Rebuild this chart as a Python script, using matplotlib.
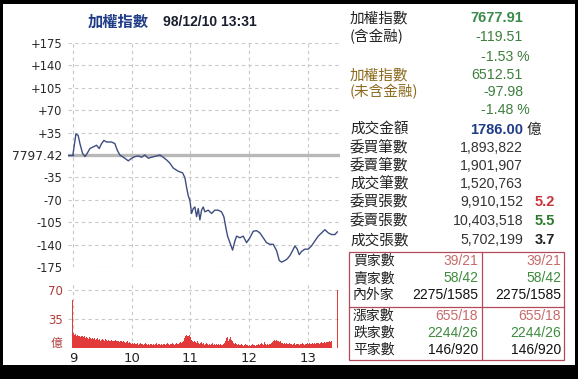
import matplotlib.pyplot as plt
from matplotlib.patches import Rectangle

plt.rcParams['font.family'] = ['Liberation Sans', 'Noto Sans CJK TC', 'DejaVu Sans']

# index change vs 7797.42, minutes after 09:00
minutes = [0, 3.1, 5.4, 7.2, 9.9, 12.3, 14.6, 17.4, 20.8, 24.2, 26.9, 29.3, 31.7, 34.4,
           39.5, 42.9, 45.3, 48.0, 53.1, 56.6, 60.0, 63.4, 66.8, 70.2, 73.6, 77.0, 80.4,
           85.5, 88.9, 92.3, 95.7, 99.1, 102.5, 107.7, 112.1, 114.5, 116.2, 117.9, 119.6,
           121.3, 123.0, 124.7, 126.4, 128.1, 129.8, 131.5, 133.2, 134.9, 138.3, 141.7,
           145.1, 148.5, 151.9, 154.3, 156.4, 158.1, 160.5, 163.2, 165.6, 167.3, 170.7,
           174.1, 177.5, 180.9, 184.3, 187.7, 191.1, 194.5, 197.9, 201.4, 204.8, 208.2,
           210.9, 213.3, 216.7, 219.1, 221.8, 224.5, 226.9, 229.3, 231.3, 233.7, 237.1,
           240.5, 243.9, 247.3, 250.7, 254.2, 257.6, 261.0, 264.4, 267.8, 270.2]
change = [0, 33.0, 30.4, 17.8, 2.5, -2.5, 2.5, 10.1, 12.7, 15.2, 10.1, 17.8, 22.8, 20.3,
          20.3, 17.8, 7.6, 0, -5.1, -9.1, -5.1, -2.5, -1.5, -3.5, 0, -5.1, -3.5,
          -1.5, 0, -3.5, -7.6, -12.7, -20.3, -25.4, -27.9, -35.5, -50.7, -63.4, -71.0,
          -91.3, -83.7, -81.2, -96.4, -83.7, -101.4, -86.2, -81.2, -88.8, -86.2, -91.3,
          -86.2, -86.2, -88.8, -96.4, -114.1, -126.8, -137.0, -148.6, -134.4, -126.8, -129.3,
          -126.8, -137.0, -129.3, -119.2, -118.2, -121.7, -129.3, -137.0, -139.5, -139.5, -149.6,
          -164.8, -167.4, -164.8, -162.3, -157.2, -149.6, -142.0, -147.1, -155.7, -150.7, -147.1,
          -147.1, -142.0, -134.4, -126.8, -121.7, -116.7, -121.7, -124.3, -124.3, -120.2]

# traded value per minute (億), 09:00 .. 13:24, then 13:30 close
vol_min = list(range(0, 265)) + [270]
volume = [58,
          18, 16, 17, 15, 16, 14, 15, 13, 14, 15,
          13, 14, 12, 13, 12, 11, 13, 12, 11, 12,
          11, 12, 10, 11, 12, 10, 11, 9, 10, 11,
          10, 9, 11, 10, 9, 10, 8, 9, 10, 9,
          9, 8, 9, 10, 8, 9, 8, 7, 8, 9,
          7, 8, 7, 6, 7, 8, 6, 7, 6, 5,
          6, 5, 6, 5, 5, 6, 4, 5, 6, 5,
          5, 4, 5, 6, 5, 4, 5, 4, 5, 5,
          4, 5, 4, 5, 6, 4, 5, 4, 5, 4,
          5, 4, 5, 5, 4, 5, 6, 5, 4, 5,
          5, 6, 5, 4, 5, 6, 5, 5, 6, 7,
          6, 7, 9, 12, 15, 16, 15, 14, 16, 13,
          10, 8, 7, 9, 7, 6, 8, 6, 5, 6,
          7, 5, 6, 5, 4, 5, 6, 5, 4, 5,
          4, 5, 6, 4, 5, 4, 5, 4, 5, 4,
          5, 4, 4, 5, 6, 9, 12, 13, 8, 11,
          13, 10, 8, 6, 5, 6, 5, 4, 5, 4,
          4, 5, 4, 3, 4, 5, 4, 4, 3, 4,
          4, 3, 4, 5, 4, 4, 3, 4, 4, 5,
          4, 5, 6, 5, 4, 7, 5, 4, 5, 4,
          5, 5, 6, 7, 8, 10, 9, 10, 8, 9,
          7, 8, 6, 6, 5, 6, 5, 6, 5, 5,
          6, 5, 5, 4, 5, 6, 5, 4, 5, 5,
          5, 4, 5, 5, 6, 5, 4, 5, 5, 6,
          5, 6, 5, 5, 6, 5, 6, 5, 6, 6,
          6, 5, 6, 7, 6, 6, 7, 6, 7, 7,
          7, 8, 7, 8,
          70]

price_ticks = [175, 140, 105, 70, 35, 0, -35, -70, -105, -140, -175]
price_labels = ['+175', '+140', '+105', '+70', '+35', '7797.42', '-35', '-70', '-105', '-140', '-175']
vol_ticks = [0, 35, 70]
vol_labels = ['億', '35', '70']
hour_ticks = [0, 60, 120, 180, 240]
hour_labels = ['9', '10', '11', '12', '13']

W, H = 578, 379


def fx(x):
    return x / W


def fy(y):
    return 1 - y / H


fig = plt.figure(figsize=(5.78, 3.79), dpi=100, facecolor='black')
fig.patches.append(Rectangle((fx(3), fy(365)), 572 / W, 361 / H, transform=fig.transFigure,
                             facecolor='white', edgecolor='none', zorder=-5))

grid_kw = dict(color='#c8c8c8', linestyle=(0, (3, 3)), linewidth=0.8)
tick_font = ['DejaVu Sans']

# price panel
ax = fig.add_axes([fx(68), fy(267), 272 / W, 224 / H])
ax.set_facecolor('none')
ax.plot(minutes, change, color='#3e4d80', linewidth=1.0, zorder=3)
ax.axhline(0, color='#b8b8b8', linewidth=2.4, zorder=2)
ax.axhline(0, xmin=0, xmax=5 / 278, color='#3e4d80', linewidth=1.0, zorder=3)
ax.set_xlim(-5, 273)
ax.set_ylim(-175, 175)
ax.set_yticks(price_ticks)
ax.set_yticklabels(price_labels, family=tick_font)
ax.set_xticks(hour_ticks)
ax.tick_params(axis='y', length=0, pad=4, labelsize=8.3, labelcolor='#2a2a2a')
ax.tick_params(axis='x', length=0, labelbottom=False)
ax.get_yticklabels()[5].set_fontsize(8.8)
for v in price_ticks:
    if v != 0:
        ax.axhline(v, zorder=1, **grid_kw)
for t in hour_ticks:
    ax.axvline(t, zorder=1, **grid_kw)
for s in ax.spines.values():
    s.set_visible(False)

# volume panel
av = fig.add_axes([fx(68), fy(348), 272 / W, 66 / H])
av.set_facecolor('none')
av.bar(vol_min, volume, width=1.0, color='#e23a3a', edgecolor='none', zorder=3)
av.set_xlim(-5, 273)
av.set_ylim(0, 80)
av.set_yticks(vol_ticks)
av.set_yticklabels(vol_labels, family=tick_font)
av.set_xticks(hour_ticks)
av.set_xticklabels(hour_labels, family=tick_font)
av.tick_params(axis='y', length=0, pad=4, labelsize=8.5, labelcolor='#b03a3a')
av.tick_params(axis='x', length=0, pad=3, labelsize=9.5, labelcolor='#222222')
yi = av.get_yticklabels()[0]
yi.set_verticalalignment('baseline')
yi.set_family(['Noto Sans CJK TC'])
for v in [35, 70]:
    av.axhline(v, zorder=1, **grid_kw)
for t in hour_ticks:
    av.axvline(t, zorder=1, **grid_kw)
for s in av.spines.values():
    s.set_visible(False)

# title
fig.text(fx(88), fy(22), '加權指數', color='#1f3c88', fontsize=11, fontweight='bold',
         family=['Noto Sans CJK TC'], va='center')
fig.text(fx(163), fy(22), '98/12/10 13:31', color='#1a1f2e', fontsize=10, fontweight='bold',
         va='center')

# right info panel
cjk = ['Noto Sans CJK TC']
green = '#3d7f3d'
rows = [
    (18, '加權指數', '#222222', '7677.91', '#3a8a4a', True),
    (37, '(含金融)', '#222222', '-119.51', green, False),
    (75, '加權指數', '#8c6a1e', '6512.51', green, False),
    (92, '(未含金融)', '#8c6a1e', '-97.98', green, False),
    (130, '成交金額', '#222222', '1786.00', '#1f3c88', True),
    (148, '委買筆數', '#222222', '1,893,822', '#333333', False),
    (166, '委賣筆數', '#222222', '1,901,907', '#333333', False),
    (184, '成交筆數', '#222222', '1,520,763', '#333333', False),
    (202, '委買張數', '#222222', '9,910,152', '#333333', False),
    (221, '委賣張數', '#222222', '10,403,518', '#333333', False),
    (240, '成交張數', '#222222', '5,702,199', '#333333', False),
]
for y, lab, lc, val, vc, bold in rows:
    fig.text(fx(350), fy(y), lab, color=lc, fontsize=10.5, family=cjk, va='center')
    fig.text(fx(523), fy(y), val, color=vc, va='center', ha='right',
             fontsize=10.5 if bold else 10.2, fontweight='bold' if bold else 'normal')
fig.text(fx(530), fy(57), '-1.53 %', color=green, fontsize=10.2, va='center', ha='right')
fig.text(fx(530), fy(110), '-1.48 %', color=green, fontsize=10.2, va='center', ha='right')
fig.text(fx(527), fy(130), '億', color='#222222', fontsize=10.5, family=cjk, va='center')
ratios = [(202, '5.2', '#c8363c'), (221, '5.5', '#2a7a2a'), (240, '3.7', '#222222')]
for y, r, c in ratios:
    fig.text(fx(535), fy(y), r, color=c, fontsize=10.5, fontweight='bold', va='center')

# breadth table
border = '#b24a5a'
fig.patches.append(Rectangle((fx(349), fy(360)), 215 / W, 108 / H, transform=fig.transFigure,
                             facecolor='none', edgecolor=border, linewidth=0.9))
fig.lines.append(plt.Line2D([fx(482), fx(482)], [fy(252), fy(360)], transform=fig.transFigure,
                            color=border, linewidth=0.9))
fig.lines.append(plt.Line2D([fx(349), fx(564)], [fy(307), fy(307)], transform=fig.transFigure,
                            color=border, linewidth=0.9))
red_t = '#c86a6a'
green_t = '#3d8a3d'
table = [
    (261, '買家數', '39/21', red_t),
    (278, '賣家數', '58/42', green_t),
    (295, '內外家', '2275/1585', '#111111'),
    (316, '漲家數', '655/18', red_t),
    (333, '跌家數', '2244/26', green_t),
    (350, '平家數', '146/920', '#111111'),
]
for y, lab, val, c in table:
    fig.text(fx(353), fy(y), lab, color='#222222', fontsize=10, family=cjk, va='center')
    fig.text(fx(478), fy(y), val, color=c, fontsize=10, va='center', ha='right')
    fig.text(fx(561), fy(y), val, color=c, fontsize=10, va='center', ha='right')

fig.savefig('out.png', dpi=100, facecolor='black')
